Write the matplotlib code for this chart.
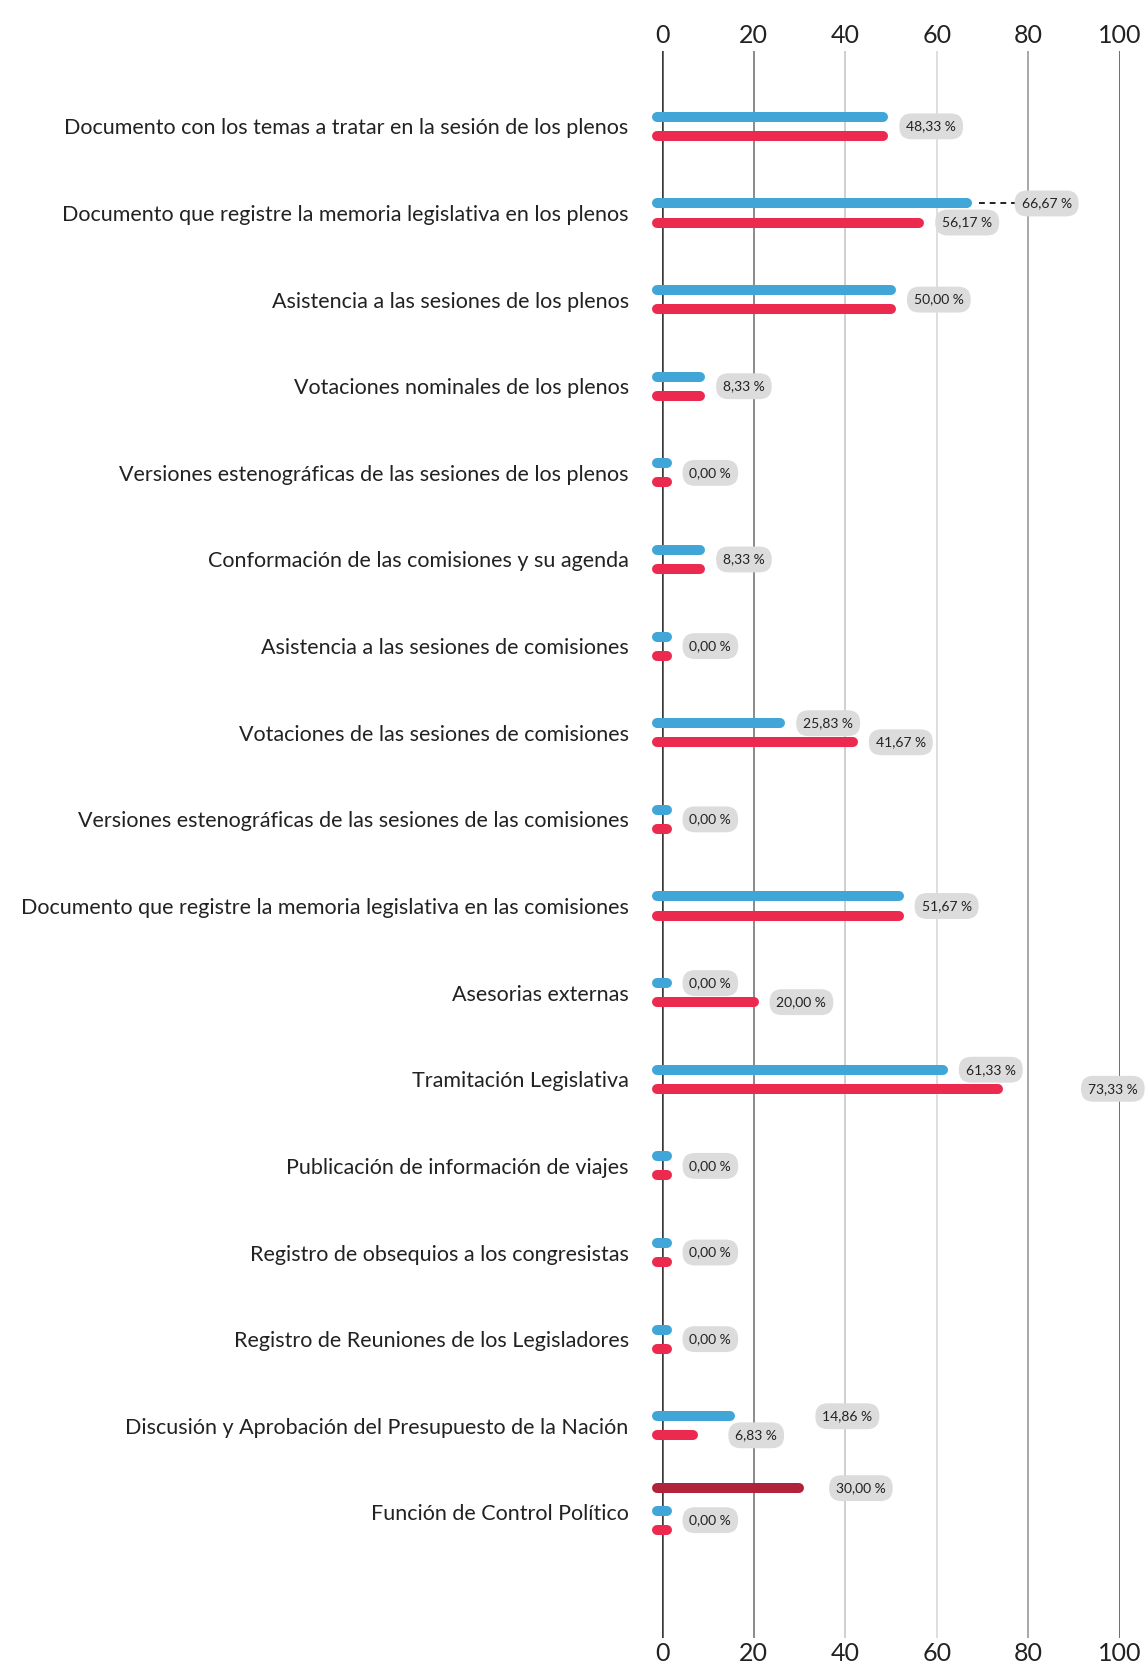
import numpy as np
import matplotlib
matplotlib.use('Agg')
import matplotlib.pyplot as plt

plt.rcParams['font.family'] = ['Lato', 'DejaVu Sans']

categories = [
    'Documento con los temas a tratar en la sesión de los plenos',
    'Documento que registre la memoria legislativa en los plenos',
    'Asistencia a las sesiones de los plenos',
    'Votaciones nominales de los plenos',
    'Versiones estenográficas de las sesiones de los plenos',
    'Conformación de las comisiones y su agenda',
    'Asistencia a las sesiones de comisiones',
    'Votaciones de las sesiones de comisiones',
    'Versiones estenográficas de las sesiones de las comisiones',
    'Documento que registre la memoria legislativa en las comisiones',
    'Asesorias externas',
    'Tramitación Legislativa',
    'Publicación de información de viajes',
    'Registro de obsequios a los congresistas',
    'Registro de Reuniones de los Legisladores',
    'Discusión y Aprobación del Presupuesto de la Nación',
    'Función de Control Político',
]
blue_vals = [48.33, 66.67, 50.00, 8.33, 0, 8.33, 0, 25.83, 0, 51.67,
             0, 61.33, 0, 0, 0, 14.86, 0]
red_vals = [48.33, 56.17, 50.00, 8.33, 0, 8.33, 0, 41.67, 0, 51.67,
            20.00, 73.33, 0, 0, 0, 6.83, 0]
extra_row = 16
extra_val = 30.00

BLUE = '#3fa6d7'
RED = '#ec2a50'
DARKRED = '#b1233b'

fig = plt.figure(figsize=(11.48, 16.71), dpi=100)
ax = fig.add_axes([662/1148, 1 - 1638/1671, 458/1148, (1638 - 51)/1671])
ax.set_xlim(0, 100)
ax.set_ylim(17.45, -0.87)
for s in ax.spines.values():
    s.set_visible(False)

# vertical reference lines
grid_cols = {0: '#3a3a3a', 20: '#8a8a8a', 40: '#cfcfcf', 60: '#dedede',
             80: '#a8a8a8', 100: '#444444'}
for gx, gc in grid_cols.items():
    ax.axvline(gx, color=gc, lw=1.8 if gx in (0, 100) else 1.4, zorder=1)

ax.set_xticks(list(grid_cols))
ax.set_xticklabels([str(t) for t in grid_cols], fontsize=18, color='#222222')
ax.tick_params(axis='x', top=True, labeltop=True, bottom=True,
               labelbottom=True, length=0, pad=3)

rows = np.arange(len(categories))
ax.set_yticks(rows)
ax.set_yticklabels(categories, fontsize=15.5, color='#222222')
ax.tick_params(axis='y', length=0, pad=24)

OFF = 0.11
LW = 7.2
START = -1.0


def bar(y, v, color):
    ax.plot([START, max(v, 1.0)], [y, y], color=color, lw=LW,
            solid_capstyle='round', clip_on=False, zorder=3)


def pill(x, y, txt):
    ax.text(x, y, txt, fontsize=10, ha='left', va='center', color='#222222',
            zorder=5, clip_on=False,
            bbox=dict(boxstyle='round,pad=0.5,rounding_size=0.9',
                      fc='#dcdcdc', ec='none'))


def fmt(v):
    return '{:.2f} %'.format(v).replace('.', ',')


# label x overrides for crowded rows
label_x = {(1, 'b'): 78.5, (11, 'r'): 93.0, (15, 'b'): 35.0, (15, 'r'): 16.0}
GAP = 5.0

for i in rows:
    b, r = blue_vals[i], red_vals[i]
    yb, yr = i - OFF, i + OFF
    if i == extra_row:
        yb, yr = i - 0.02, i + 0.2
        ye = i - 0.28
        bar(ye, extra_val, DARKRED)
        pill(extra_val + GAP + 3, ye, fmt(extra_val))
    bar(yb, b, BLUE)
    bar(yr, r, RED)
    if b == r:
        pill(max(b, 1.0) + GAP, (yb + yr) / 2, fmt(b))
    else:
        xb = label_x.get((i, 'b'), max(b, 1.0) + GAP)
        xr = label_x.get((i, 'r'), max(r, 1.0) + GAP)
        pill(xb, yb, fmt(b))
        pill(xr, yr, fmt(r))
        if (i, 'b') in label_x and i == 1:
            ax.plot([b + 2.5, xb - 1.5], [yb, yb], color='#222222', lw=1.4,
                    ls=(0, (3, 2.5)), zorder=2)

fig.savefig('out.png', dpi=100, facecolor='white')
